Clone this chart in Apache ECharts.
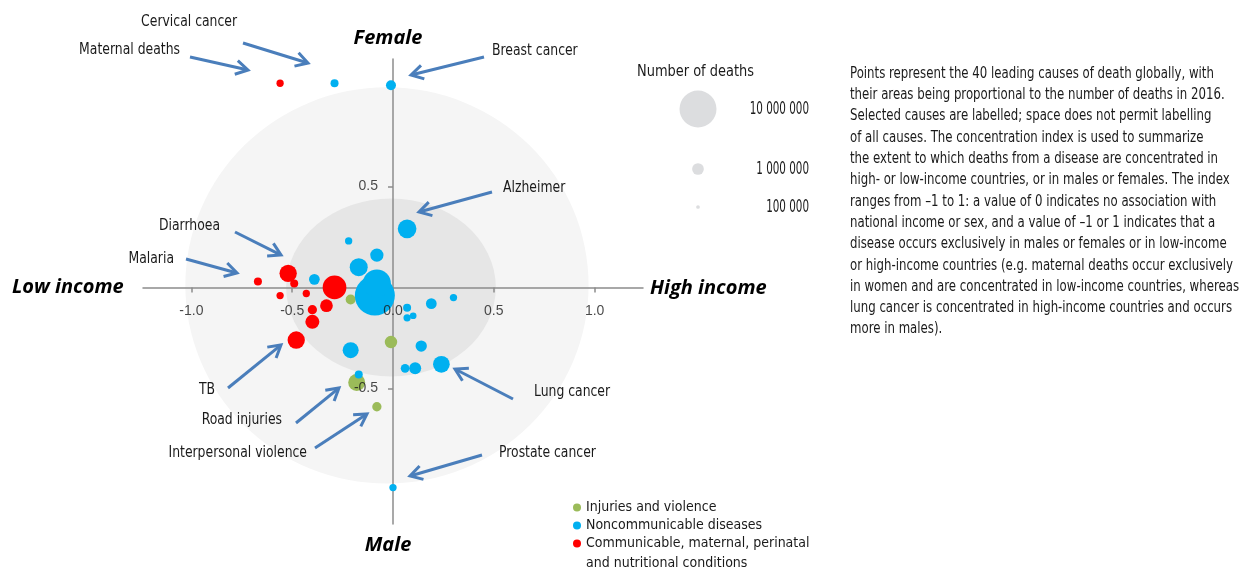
<!DOCTYPE html>
<html>
<head>
<meta charset="UTF-8">
<title>Concentration index of leading causes of death</title>
<script src="https://cdn.jsdelivr.net/npm/echarts@6.0.0/dist/echarts.min.js"></script>
<style>
  html, body { margin: 0; padding: 0; background: #fff; }
  #chart { width: 1242px; height: 571px; }
</style>
</head>
<body>
<div id="chart"></div>
<script>
// each point: [income concentration index, sex concentration index, deaths in 2016]
const injuries = [
  [-0.21, -0.06, 730000],
  [-0.01, -0.27, 1140000],
  [-0.18, -0.47, 2100000],   // road injuries
  [-0.08, -0.59, 630000]     // interpersonal violence
];
const communicable = [
  [-0.56, 1.01, 390000],     // maternal deaths
  [-0.67, 0.03, 470000],     // malaria
  [-0.52, 0.07, 2190000],    // diarrhoea
  [-0.49, 0.02, 470000],
  [-0.56, -0.04, 390000],
  [-0.43, -0.03, 390000],
  [-0.29, 0.00, 4100000],
  [-0.33, -0.09, 1180000],
  [-0.40, -0.11, 630000],
  [-0.40, -0.17, 1430000],
  [-0.48, -0.26, 2190000]    // TB
];
const noncommunicable = [
  [-0.29, 1.01, 470000],     // cervical cancer
  [-0.01, 1.00, 730000],     // breast cancer
  [0.07, 0.29, 2550000],     // alzheimer
  [-0.22, 0.23, 390000],
  [-0.08, 0.16, 1290000],
  [-0.17, 0.10, 2370000],
  [-0.39, 0.04, 840000],
  [-0.09, -0.04, 11700000],
  [-0.08, 0.02, 5700000],
  [0.19, -0.08, 840000],
  [0.30, -0.05, 390000],
  [0.07, -0.10, 470000],
  [0.10, -0.14, 330000],
  [0.07, -0.15, 390000],
  [0.14, -0.29, 930000],
  [-0.21, -0.31, 1870000],
  [0.24, -0.38, 2040000],    // lung cancer
  [0.11, -0.40, 1050000],
  [0.06, -0.40, 550000],
  [-0.17, -0.43, 470000],
  [0.00, -0.99, 390000]      // prostate cancer
];
const groupNames = ['Injuries and violence', 'Noncommunicable diseases',
  'Communicable, maternal, perinatal and nutritional conditions'];
const groupColors = ['#9BBB59', '#00B0F0', '#FF0000'];
const xTicks = [-1, -0.5, 0, 0.5, 1];
const yTicks = [-0.5, 0.5];
const sizeLegendValues = [10000000, 1000000, 100000];
const sizeLegendLabels = ['10 000 000', '1 000 000', '100 000'];

const noteLines = [
  'Points represent the 40 leading causes of death globally, with',
  'their areas being proportional to the number of deaths in 2016.',
  'Selected causes are labelled; space does not permit labelling',
  'of all causes. The concentration index is used to summarize',
  'the extent to which deaths from a disease are concentrated in',
  'high- or low-income countries, or in males or females. The index',
  'ranges from \u20131 to 1: a value of 0 indicates no association with',
  'national income or sex, and a value of \u20131 or 1 indicates that a',
  'disease occurs exclusively in males or females or in low-income',
  'or high-income countries (e.g. maternal deaths occur exclusively',
  'in women and are concentrated in low-income countries, whereas',
  'lung cancer is concentrated in high-income countries and occurs',
  'more in males).'
];

// background zones (data units)
const bgRings = [
  { cx: -0.03, cy: 0.01, rx: 1.0, ry: 0.98, fill: '#F5F5F5' },
  { cx: -0.01, cy: 0.0, rx: 0.52, ry: 0.44, fill: '#E6E6E6' }
];

// callouts: label text + arrow (pixels)
const callouts = [
  { text: 'Cervical cancer', x: 237, y: 22, align: 'right', from: [243, 43], to: [308, 63] },
  { text: 'Maternal deaths', x: 180, y: 50, align: 'right', from: [190, 57], to: [248, 70] },
  { text: 'Breast cancer', x: 492, y: 51, align: 'left', from: [484, 57], to: [411, 75] },
  { text: 'Alzheimer', x: 503, y: 188, align: 'left', from: [492, 192], to: [419, 212] },
  { text: 'Diarrhoea', x: 220, y: 226, align: 'right', from: [235, 232], to: [281, 255] },
  { text: 'Malaria', x: 174, y: 259, align: 'right', from: [186, 259], to: [237, 273] },
  { text: 'TB', x: 215, y: 390, align: 'right', from: [228, 388], to: [281, 345] },
  { text: 'Road injuries', x: 282, y: 420, align: 'right', from: [296, 423], to: [339, 388] },
  { text: 'Interpersonal violence', x: 307, y: 453, align: 'right', from: [315, 448], to: [367, 414] },
  { text: 'Lung cancer', x: 534, y: 392, align: 'left', from: [513, 399], to: [455, 369] },
  { text: 'Prostate cancer', x: 499, y: 453, align: 'left', from: [482, 455], to: [410, 476] }
];

const NARROW = "'Liberation Sans Narrow', 'DejaVu Sans Condensed', sans-serif";
const ARROW = '#4A7EBB';
const D10M = 37; // bubble diameter (px) for 10 million deaths

function bubble(deaths) {
  return D10M * Math.sqrt(deaths / 10000000);
}

function arrow(from, to) {
  const dx = to[0] - from[0], dy = to[1] - from[1];
  const len = Math.hypot(dx, dy);
  const ux = dx / len, uy = dy / len;
  const hl = 12, hw = 7;
  const p1 = [to[0] - ux * hl - uy * hw, to[1] - uy * hl + ux * hw];
  const p2 = [to[0] - ux * hl + uy * hw, to[1] - uy * hl - ux * hw];
  return [
    { type: 'line', shape: { x1: from[0], y1: from[1], x2: to[0] - ux, y2: to[1] - uy },
      style: { stroke: ARROW, lineWidth: 3 } },
    { type: 'polyline', shape: { points: [p1, to, p2] },
      style: { stroke: ARROW, lineWidth: 3, fill: null } }
  ];
}

// narrow text, squeezed horizontally around its anchor
function narrowText(text, x, y, size, squeeze, align) {
  return {
    type: 'text', x: x, y: y, scaleX: squeeze,
    style: { text: text, font: size + 'px ' + NARROW, fill: '#1a1a1a',
      textAlign: align || 'left', textVerticalAlign: 'middle' }
  };
}

const chart = echarts.init(document.getElementById('chart'));

const graphics = [];
callouts.forEach(c => {
  graphics.push(narrowText(c.text, c.x, c.y, 15, 0.92, c.align));
  arrow(c.from, c.to).forEach(g => graphics.push(g));
});

const axisFont = "bold italic 20px 'Open Sans', Lato, sans-serif";
[['Female', 388, 38, 'center'], ['Male', 388, 545, 'center'],
 ['Low income', 12, 287, 'left'], ['High income', 650, 288, 'left']].forEach(a => {
  graphics.push({
    type: 'text', x: a[1], y: a[2],
    style: { text: a[0], font: axisFont, fill: '#000', textAlign: a[3], textVerticalAlign: 'middle' }
  });
});

// size legend
graphics.push(narrowText('Number of deaths', 637, 72, 16, 0.9));
const sizeRows = [109, 169, 207];
sizeLegendValues.forEach((v, i) => {
  graphics.push({ type: 'circle', shape: { cx: 698, cy: sizeRows[i], r: bubble(v) / 2 }, style: { fill: '#DCDDDF' } });
  graphics.push(narrowText(sizeLegendLabels[i], 809, sizeRows[i], 18, 0.64, 'right'));
});

// second line of the last legend entry
graphics.push(narrowText('and nutritional conditions', 586, 563, 14, 1));

// note on the right
noteLines.forEach((line, i) => {
  graphics.push(narrowText(line, 850, 74 + i * 21.3, 15, 0.872));
});

const groups = [injuries, noncommunicable, communicable];
const drawOrder = [0, 2, 1]; // blue on top

const tickLabelStyle = {
  show: true, color: '#1a1a1a', fontSize: 14,
  fontFamily: "'Liberation Sans', Arial, sans-serif",
  formatter: p => p.value[p.value[1] === 0 ? 0 : 1].toFixed(1)
};

chart.setOption({
  animation: false,
  grid: { left: 143, right: 599, top: 59, bottom: 47, outerBoundsMode: 'none' },
  xAxis: {
    type: 'value', min: -1.24, max: 1.24,
    splitLine: { show: false },
    axisLine: { onZero: true, lineStyle: { color: '#8C8C8C', width: 1.5 } },
    axisTick: { show: true, length: 5, customValues: xTicks, lineStyle: { color: '#8C8C8C', width: 1.5 } },
    axisLabel: { show: false }
  },
  yAxis: {
    type: 'value', min: -1.17, max: 1.13,
    splitLine: { show: false },
    axisLine: { onZero: true, lineStyle: { color: '#8C8C8C', width: 1.5 } },
    axisTick: { show: true, length: 5, customValues: yTicks, lineStyle: { color: '#8C8C8C', width: 1.5 } },
    axisLabel: { show: false }
  },
  legend: {
    data: groupNames,
    orient: 'vertical', left: 568, top: 494,
    icon: 'circle', itemWidth: 8, itemHeight: 8, itemGap: 1,
    selectedMode: false,
    textStyle: { fontSize: 14, fontFamily: NARROW, color: '#1a1a1a', lineHeight: 17 },
    formatter: name => name === groupNames[2] ? 'Communicable, maternal, perinatal' : name
  },
  graphic: { elements: graphics },
  series: [
    {
      type: 'custom', z: -1, silent: true, clip: false,
      data: bgRings.map(r => [r.cx, r.cy]),
      encode: { x: 0, y: 1 },
      renderItem: (params, api) => {
        const r = bgRings[params.dataIndex];
        const c = api.coord([r.cx, r.cy]);
        const s = api.size([r.rx, r.ry]);
        return {
          type: 'circle', shape: { cx: 0, cy: 0, r: s[0] },
          x: c[0], y: c[1], scaleY: s[1] / s[0],
          style: { fill: r.fill }
        };
      }
    }
  ].concat(drawOrder.map(i => ({
    name: groupNames[i],
    type: 'scatter',
    data: groups[i],
    symbolSize: v => bubble(v[2]),
    itemStyle: { color: groupColors[i], opacity: 1 },
    emphasis: { disabled: true }
  }))).concat([
    // tick labels placed on the zero-crossing axes
    {
      type: 'scatter', silent: true, z: 10, symbolSize: 0,
      data: xTicks.map(v => [v, 0]),
      label: Object.assign({ position: 'bottom', distance: 17 }, tickLabelStyle)
    },
    {
      type: 'scatter', silent: true, z: 10, symbolSize: 0,
      data: yTicks.map(v => [0, v]),
      label: Object.assign({ position: 'left', distance: 15 }, tickLabelStyle)
    }
  ])
});
</script>
</body>
</html>
